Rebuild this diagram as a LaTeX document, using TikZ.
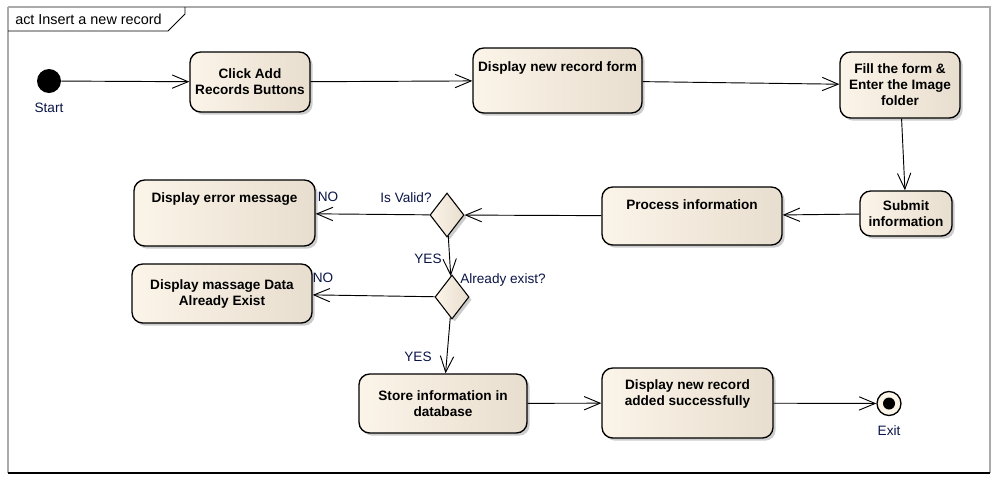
\documentclass[tikz,border=0pt]{standalone}
\usepackage{fontspec}
\setmainfont{Liberation Sans}
\usetikzlibrary{positioning}
\usetikzlibrary{arrows.meta}
\usetikzlibrary{shapes.geometric}
\usetikzlibrary{shadows}
\definecolor{actlight}{RGB}{251,244,232}
\definecolor{actdark}{RGB}{232,222,207}
\definecolor{navy}{RGB}{10,20,70}
\definecolor{framegray}{RGB}{170,170,170}

\begin{document}
\begin{tikzpicture}[x=0.75pt, y=-0.75pt,
    activity/.style={draw, line width=1pt, rounded corners=8pt, left color=actlight, right color=actdark,
        drop shadow={shadow xshift=2pt, shadow yshift=-2pt, fill=black!40},
        inner sep=0pt, align=center,
        font=\fontsize{10.2}{12}\selectfont\bfseries},
    decision/.style={diamond, draw, line width=0.8pt, left color=actlight, right color=actdark,
        drop shadow={shadow xshift=2pt, shadow yshift=-2pt, fill=black!40},
        inner sep=0pt, minimum width=25.5pt, minimum height=33pt},
    flow/.style={line width=0.7pt, -{Straight Barb[length=12pt, width=10pt, line width=0.7pt]}},
    lbl/.style={font=\fontsize{10.2}{12}\selectfont, text=navy, inner sep=1pt}]
    \useasboundingbox (0,0) rectangle (1005,483);

    % frame
    \draw[framegray, line width=1.5pt] (8,473) -- (8,7);
    \draw[framegray, line width=0.8pt] (8,7) -- (990,7) -- (990,473);
    \draw[black, line width=1pt] (8,473) -- (990,473);
    \draw[line width=0.6pt] (8,31) -- (168,31) -- (185,14) -- (185,7);
    \node[font=\fontsize{10.8}{12}\selectfont, inner sep=0pt, anchor=west] (title) at (15,19) {act Insert a new record};

    % start
    \node[circle, fill=black, minimum size=18pt, inner sep=0pt] (start) at (49,81) {};
    \node[lbl, below=6pt of start] (startlbl) {Start};

    % top row
    \node[activity, minimum width=90pt, minimum height=45pt] (click) at (250,82) {Click Add\\Records Buttons};
    \node[activity, minimum width=126.75pt, minimum height=48.75pt, text height=7pt, text depth=20.5pt] (form) at (557.5,80.5) {Display new record form};
    \node[activity, minimum width=90pt, minimum height=49.5pt] (fill) at (900,85) {Fill the form \&\\Enter the Image\\folder};

    % middle row
    \node[activity, minimum width=69pt, minimum height=33.75pt] (submit) at (906,213.5) {Submit\\information};
    \node[activity, minimum width=135pt, minimum height=43.5pt, text height=7pt, text depth=16.75pt] (process) at (692,216) {Process information};
    \node[decision] (valid) at (447,215) {};
    \node[lbl] (validlbl) at (406,198) {Is Valid?};
    \node[activity, minimum width=135.75pt, minimum height=49.5pt, text height=7pt, text depth=22.75pt] (error) at (224.5,213) {Display error message};
    \node[lbl] (no1) at (328,197) {NO};

    % already exist
    \node[decision] (exists) at (452,297) {};
    \node[lbl] (existslbl) at (503,280) {Already exist?};
    \node[lbl] (yes1) at (428,259) {YES};
    \node[activity, minimum width=135pt, minimum height=44.25pt] (existmsg) at (222,293.5) {Display massage Data\\Already Exist};
    \node[lbl] (no2) at (323,278) {NO};

    % bottom row
    \node[lbl] (yes2) at (418,357) {YES};
    \node[activity, minimum width=126pt, minimum height=44.25pt] (store) at (443,403.5) {Store information in\\database};
    \node[activity, minimum width=128.25pt, minimum height=52.5pt] (added) at (687.5,403) {Display new record\\added successfully\\[3pt]\mbox{}};

    % exit
    \node[circle, draw, line width=1pt, fill=actlight, minimum size=18pt, inner sep=0pt] (exit) at (889,403.5) {};
    \node[circle, fill=black, minimum size=9pt, inner sep=0pt] (exitdot) at (exit) {};
    \node[lbl, below=6pt of exit] (exitlbl) {Exit};

    % flows
    \draw[flow] (start) -- (click);
    \draw[flow] (click) -- (form);
    \draw[flow] (form) -- (fill);
    \draw[flow] (fill) -- (submit);
    \draw[flow] (submit) -- (process);
    \draw[flow] (process) -- (valid);
    \draw[flow] (valid) -- (error);
    \draw[flow] (valid) -- (exists);
    \draw[flow] (exists) -- (existmsg);
    \draw[flow] (exists) -- (store);
    \draw[flow] (store) -- (added);
    \draw[flow] (added) -- (exit);
\end{tikzpicture}
\end{document}
